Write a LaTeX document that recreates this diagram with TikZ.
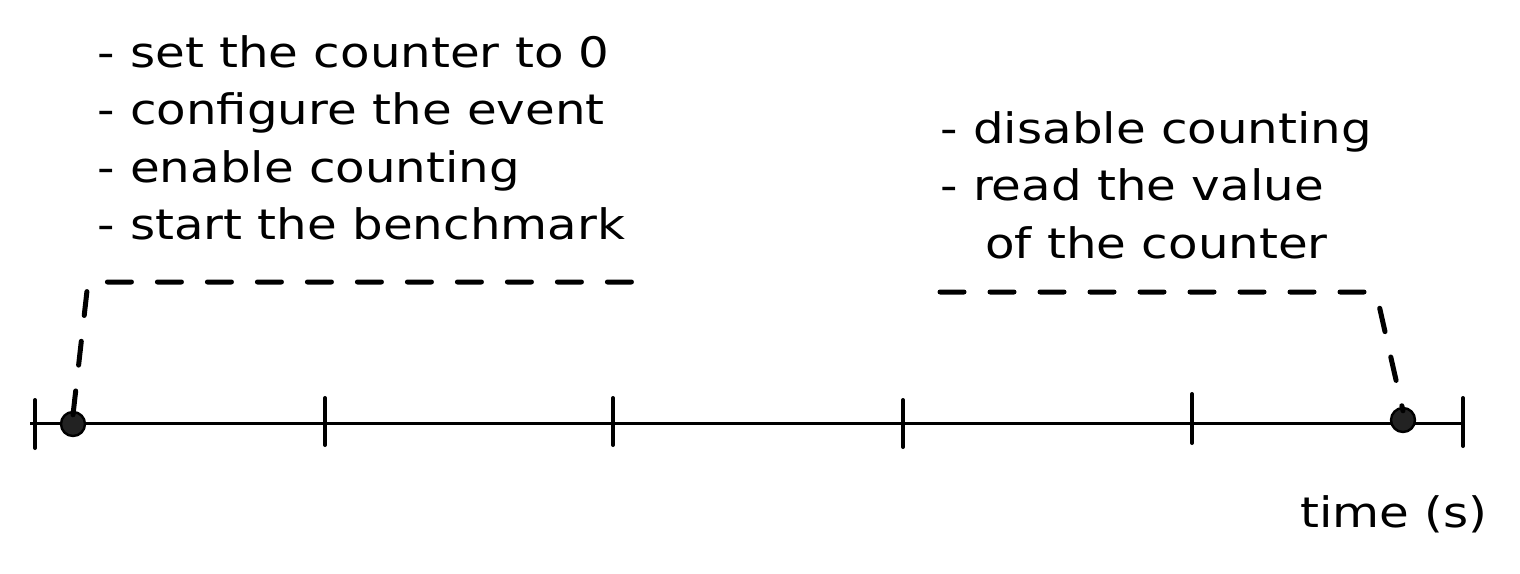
\documentclass[tikz,border=0pt]{standalone}
\usepackage{fontspec}
\newfontfamily\hand[FakeStretch=1.15]{DejaVu Sans}
\definecolor{dotfill}{HTML}{222222}
\begin{document}
\begin{tikzpicture}[x=0.5pt,y=-0.5pt,
  axisline/.style={line width=1.5pt,black},
  tickmark/.style={line width=2pt,black,line cap=round},
  dotnode/.style={circle,fill=dotfill,draw=black,line width=1.2pt,minimum size=12pt,inner sep=0pt},
  dashlink/.style={line width=2.5pt,line cap=round,dash pattern=on 12pt off 13pt,rounded corners=4pt},
  txt/.style={font=\hand\fontsize{21}{25}\selectfont,inner sep=0pt,anchor=base west}]
\useasboundingbox (0,0) rectangle (1520,573);
% axis
\coordinate (axL) at (30,423);
\coordinate (axR) at (1465,423);
\draw[axisline] (axL) -- (axR);
\foreach \x/\t/\b in {35/400/448, 325/398/445, 613/398/445, 903/400/447, 1192/394/443, 1463/398/446}
  \draw[tickmark] (\x,\t) -- (\x,\b);
% dots
\node[dotnode] (d1) at (73,424) {};
\node[dotnode] (d2) at (1403,420) {};
% dashed links
\coordinate (c1) at (88,282);
\coordinate (e1) at (635,282);
\coordinate (c2) at (1376,292);
\coordinate (e2) at (940,292);
\draw[dashlink] ([yshift=-2pt]d1.north) -- (c1) -- (e1);
\draw[dashlink] (e2) -- (c2) -- ([yshift=-2pt]d2.north);
% left text
\node[txt] (l1) at (97,67) {- set the counter to 0};
\node[txt] (l2) at (97,124) {- configure the event};
\node[txt] (l3) at (97,182) {- enable counting};
\node[txt] (l4) at (97,239) {- start the benchmark};
% right text
\node[txt] (r1) at (940,143) {- disable counting};
\node[txt] (r2) at (940,200) {- read the value};
\node[txt] (r3) at (985,258) {of the counter};
% axis label
\node[txt] (tl) at (1300,527) {time (s)};
\end{tikzpicture}
\end{document}
